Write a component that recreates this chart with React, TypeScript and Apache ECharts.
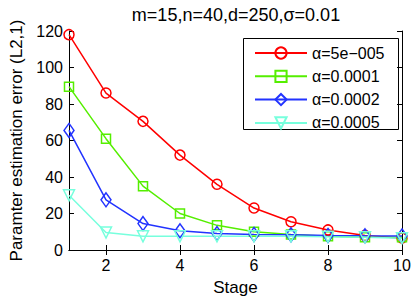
import React, { useEffect, useRef } from "react";
import * as echarts from "echarts";

const stages = [1, 2, 3, 4, 5, 6, 7, 8, 9, 10];
const seriesNames = ["α=5e−005", "α=0.0001", "α=0.0002", "α=0.0005"];
const red = [118, 86, 70.5, 52, 36, 23, 15.5, 11, 8, 6.5];
const green = [89.5, 61, 35, 20, 13.5, 10, 8.5, 7.5, 7, 7];
const blue = [65.5, 27.5, 14.5, 10.5, 9, 8.5, 8.3, 8, 7.8, 7.7];
const cyan = [30, 9.6, 7.5, 7.5, 7.5, 7.5, 7.5, 7.2, 7, 6.5];
const xTicks = [2, 4, 6, 8, 10];
const title = "m=15,n=40,d=250,σ=0.01";

const FONT = "Liberation Sans, Arial, Helvetica, sans-serif";

export default function App() {
  const ref = useRef<HTMLDivElement>(null);
  useEffect(() => {
    if (!ref.current) return;
    const chart = echarts.init(ref.current, null, { renderer: "svg" });
    const colors = ["#ff0000", "#55ee00", "#2233ff", "#77ffdd"];
    const symbols = ["circle", "rect", "diamond", "triangle"];
    const sizes: any[] = [10, 9, [10, 14], 11];
    const rots = [0, 0, 0, 180];
    const datas = [red, green, blue, cyan];
    const axisCommon = {
      axisLine: { show: true, lineStyle: { color: "#000", width: 1 } },
      splitLine: { show: false },
    };
    chart.setOption({
      animation: false,
      title: {
        text: title,
        left: 231,
        textAlign: "center",
        top: 1,
        textStyle: { fontFamily: FONT, fontSize: 18, fontWeight: "normal", color: "#000" },
      },
      grid: { left: 61, right: 13, top: 31, bottom: 50 },
      xAxis: [
        {
          type: "value",
          min: 1,
          max: 10,
          name: "Stage",
          nameLocation: "middle",
          nameGap: 29,
          nameTextStyle: { fontFamily: FONT, fontSize: 17, color: "#000" },
          ...axisCommon,
          axisTick: { show: true, inside: true, length: 5, customValues: xTicks, lineStyle: { color: "#000" } },
          axisLabel: { customValues: xTicks, fontFamily: FONT, fontSize: 16, color: "#000", margin: 7 },
        },
        {
          type: "value",
          min: 1,
          max: 10,
          position: "top",
          ...axisCommon,
          axisTick: { show: true, inside: true, length: 5, customValues: xTicks, lineStyle: { color: "#000" } },
          axisLabel: { show: false, customValues: xTicks },
        },
      ],
      yAxis: [
        {
          type: "value",
          min: 0,
          max: 120,
          interval: 20,
          name: "Paramter estimation error (L2,1)",
          nameLocation: "middle",
          nameGap: 44,
          nameTextStyle: { fontFamily: FONT, fontSize: 17, color: "#000" },
          ...axisCommon,
          axisTick: { show: true, inside: true, length: 5, lineStyle: { color: "#000" } },
          axisLabel: { fontFamily: FONT, fontSize: 16, color: "#000", margin: 6 },
        },
        {
          type: "value",
          min: 0,
          max: 120,
          interval: 20,
          position: "right",
          ...axisCommon,
          axisTick: { show: true, inside: true, length: 5, lineStyle: { color: "#000" } },
          axisLabel: { show: false },
        },
      ],
      legend: {
        orient: "vertical",
        left: 254,
        top: 45,
        padding: 0,
        itemGap: 7.3,
        itemWidth: 52,
        itemHeight: 14,
        textStyle: { fontFamily: FONT, fontSize: 16, color: "#000", lineHeight: 16 },
        data: seriesNames,
      },
      graphic: [
        {
          type: "rect",
          shape: { x: 243.5, y: 38.5, width: 155, height: 91 },
          style: { fill: "none", stroke: "#000", lineWidth: 1 },
          z: 0,
        },
      ],
      series: datas.map((d, i) => ({
        name: seriesNames[i],
        type: "line",
        data: stages.map((s, j) => [s, d[j]]),
        symbol: symbols[i],
        symbolSize: sizes[i],
        symbolRotate: rots[i],
        showAllSymbol: true,
        lineStyle: { color: colors[i], width: 1.5 },
        itemStyle: { color: "rgba(255,255,255,0)", borderColor: colors[i], borderWidth: 1.5 },
        emphasis: { disabled: true },
      })),
    });
    return () => chart.dispose();
  }, []);
  return <div ref={ref} style={{ width: 415, height: 301, position: "absolute", left: 0, top: 0, background: "#fff" }} />;
}
